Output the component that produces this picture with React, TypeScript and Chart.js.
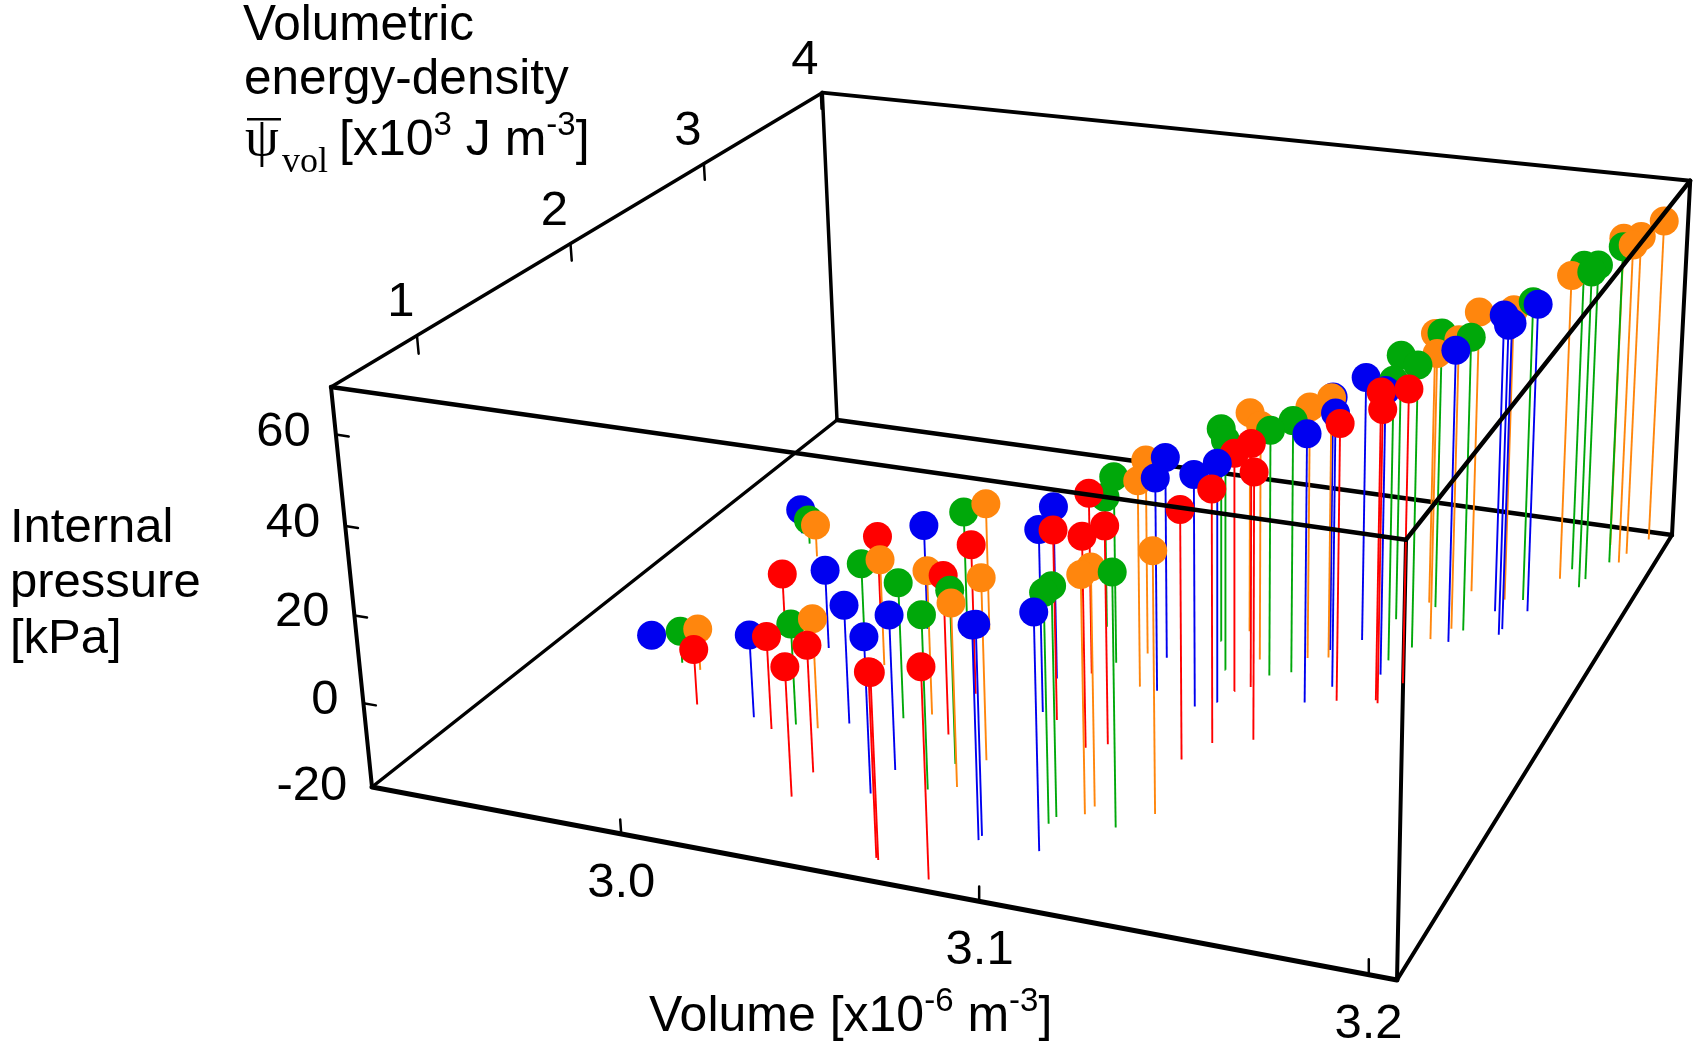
import { useEffect, useRef } from "react";
import { Chart, registerables } from "chart.js";

Chart.register(...registerables);

const WIDTH = 1699;
const HEIGHT = 1049;

// [volume x10^-6 m^3, energy density x10^3 J m^-3, internal pressure kPa]
const blueSeries = [
  [2.9528, 1.79, -16.9], [3.0012, 1.4, 0.2], [2.9569, 2.89, -13.3], [3.001, 1.99, -0.2], [3.0274, 1.47, 8.6],
  [3.0504, 1.03, 16.4], [3.0508, 1.21, 16.4], [3.0221, 2.26, 6.3], [3.0871, 0.86, 28.4], [3.087, 0.89, 27.7],
  [3.0697, 2.04, 21.9], [3.0741, 1.78, 23.7], [3.1038, 0.86, 33.3], [3.0987, 2.07, 31.2], [3.0937, 2.33, 29.1],
  [3.1119, 2.0, 35.2], [3.1168, 2.06, 36.9], [3.1393, 2.16, 43.7], [3.1433, 2.31, 45.3], [3.1353, 2.59, 41.7],
  [3.1417, 2.71, 44.2], [3.1535, 2.46, 48.1], [3.1651, 2.8, 50.9], [3.1718, 3.11, 53.1], [3.1772, 2.92, 55.3],
  [3.1771, 2.97, 54.7], [3.1806, 3.15, 55.6],
];
const greenSeries = [
  [2.9663, 1.7, -11.7], [3.014, 1.4, 4.4], [2.9627, 2.81, -13.3], [3.0073, 2.12, -1.3], [3.0399, 1.57, 12.7],
  [3.0635, 1.12, 20.5], [3.0643, 1.32, 20.7], [3.0303, 2.38, 7.5], [3.1004, 1.04, 32.2], [3.1009, 1.09, 32.4],
  [3.0815, 2.23, 25.6], [3.0701, 2.5, 12.7], [3.1173, 1.09, 37.4], [3.1043, 2.53, 32.3], [3.1119, 2.31, 35.7],
  [3.1246, 2.32, 39.1], [3.1297, 2.37, 40.7], [3.1528, 2.58, 47.6], [3.1466, 2.92, 45.2], [3.1565, 2.71, 48.6],
  [3.1548, 3.07, 48.0], [3.1669, 2.91, 51.7], [3.1773, 3.24, 54.0], [3.1851, 3.57, 56.6], [3.1903, 3.42, 58.5],
  [3.1906, 3.5, 58.6], [3.1942, 3.68, 59.6],
];
const orangeSeries = [
  [2.9733, 1.67, -9.4], [3.0206, 1.4, 6.5], [2.9691, 2.71, -11.3], [3.0207, 1.93, 6.3], [3.0463, 1.63, 14.7],
  [3.0701, 1.17, 22.6], [3.0391, 2.33, 11.8], [3.0712, 1.38, 22.8], [3.1072, 1.14, 34.3], [3.108, 1.2, 34.4],
  [3.0933, 2.08, 29.7], [3.0876, 2.34, 27.6], [3.1241, 1.22, 39.4], [3.1097, 2.64, 34.1], [3.1187, 2.43, 37.0],
  [3.131, 2.5, 41.0], [3.1364, 2.53, 43.0], [3.1522, 3.1, 47.0], [3.1598, 2.8, 49.6], [3.1634, 2.91, 50.8],
  [3.1615, 3.25, 49.8], [3.1722, 3.22, 52.0], [3.1835, 3.47, 56.0], [3.1913, 3.84, 58.2], [3.1969, 3.69, 60.1],
  [3.1975, 3.78, 60.4], [3.2012, 3.94, 61.3],
];
const redSeries = [
  [2.9829, 1.42, -6.2], [3.009, 1.34, 2.5], [3.0318, 0.92, 10.3], [3.031, 1.1, 10.0], [2.9827, 2.1, -6.3],
  [3.0069, 2.27, 1.5], [3.0667, 0.64, 21.8], [3.0676, 0.63, 22.0], [3.0837, 0.57, 27.1], [3.0555, 1.51, 17.9],
  [3.0523, 1.83, 16.3], [3.0796, 1.74, 25.3], [3.0932, 1.58, 29.6], [3.098, 1.63, 31.2], [3.0776, 2.12, 24.0],
  [3.1197, 1.61, 37.9], [3.124, 1.76, 39.2], [3.1188, 2.16, 37.0], [3.1222, 2.21, 38.4], [3.1337, 1.83, 42.4],
  [3.1472, 2.21, 45.7], [3.1572, 2.26, 52.7], [3.1582, 2.24, 49.3], [3.161, 2.42, 50.1],
];

const volumeTicks = [3.0, 3.1, 3.2];
const densityTicks = [1, 2, 3, 4];
const pressureTicks = [-20, 0, 20, 40, 60];

const volumeRange = [2.9255, 3.207];
const densityRange = [0.499, 4.013];
const pressureRange = [-19.52, 70.24];

// perspective camera: screen position of the box origin and of the three edges leaving it
const ORIGIN = [372, 787];
const EDGE_V = [1397, 980];
const EDGE_D = [837, 420];
const EDGE_P = [331, 387];
const GAIN_V = 0.89266;
const GAIN_D = 1.2629;
const GAIN_P = 0.95436;

const norm = (v: number, r: number[]) => (v - r[0]) / (r[1] - r[0]);
const depth = (u: number, v: number, w: number) =>
  1 + (GAIN_V - 1) * u + (GAIN_D - 1) * v + (GAIN_P - 1) * w;

function project(u: number, v: number, w: number) {
  const d = depth(u, v, w);
  const at = (i: number) =>
    (ORIGIN[i] +
      u * (GAIN_V * EDGE_V[i] - ORIGIN[i]) +
      v * (GAIN_D * EDGE_D[i] - ORIGIN[i]) +
      w * (GAIN_P * EDGE_P[i] - ORIGIN[i])) /
    d;
  return { x: at(0), y: at(1) };
}

const seg = (from: number[], to: number[], width: number) => ({
  data: [project(from[0], from[1], from[2]), project(to[0], to[1], to[2])],
  showLine: true,
  borderColor: "#000",
  borderWidth: width,
  pointRadius: 0,
  borderCapStyle: "round" as const,
});

function buildDatasets() {
  const sets: any[] = [];

  // edges behind the data
  sets.push(seg([0, 1, 0], [1, 1, 0], 4.5));
  sets.push(seg([0, 0, 0], [0, 1, 0], 3.5));
  sets.push(seg([0, 1, 0], [0, 1, 1], 3.5));
  sets.push(seg([0, 1, 1], [1, 1, 1], 4));
  sets.push(seg([1, 1, 0], [1, 1, 1], 4));
  sets.push(seg([1, 0, 0], [1, 1, 0], 4));
  sets.push(seg([1, 0, 0], [1, 0, 1], 4));
  sets.push(seg([0, 0, 0], [0, 0, 1], 4));
  sets.push(seg([0, 0, 1], [0, 1, 1], 3.5));

  // axis ticks
  volumeTicks.forEach((t) => {
    const u = norm(t, volumeRange);
    sets.push(seg([u, 0, 0], [u, 0, 0.037], 2.5));
  });
  densityTicks.forEach((t) => {
    const v = norm(t, densityRange);
    sets.push(seg([0, v, 1], [0, v, 0.955], 2.5));
  });
  pressureTicks.slice(1).forEach((t) => {
    const w = norm(t, pressureRange);
    sets.push(seg([0, 0, w], [0.0135, 0, w], 2.5));
  });

  // stems and balls, farthest first
  const groups: [number[][], string][] = [
    [blueSeries, "#0000f0"],
    [greenSeries, "#00a80a"],
    [orangeSeries, "#ff860d"],
    [redSeries, "#ff0000"],
  ];
  const items = groups
    .flatMap(([rows, color]) =>
      rows.map((r) => ({
        u: norm(r[0], volumeRange),
        v: norm(r[1], densityRange),
        w: norm(r[2], pressureRange),
        color,
      })),
    )
    .sort((a, b) => depth(b.u, b.v, 0) - depth(a.u, a.v, 0));

  items.forEach((p) => {
    sets.push({
      data: [project(p.u, p.v, 0), project(p.u, p.v, p.w)],
      showLine: true,
      borderColor: p.color,
      borderWidth: 1.9,
      pointRadius: [0, 14.5],
      pointBackgroundColor: p.color,
      pointBorderWidth: 0,
    });
  });

  // edges in front of the data
  sets.push(seg([0, 0, 1], [1, 0, 1], 4.5));
  sets.push(seg([1, 0, 1], [1, 1, 1], 4.5));
  sets.push(seg([0, 0, 0], [1, 0, 0], 5));

  // later in the list means drawn on top
  return sets.map((s, i) => ({ ...s, order: -i }));
}

type Piece = { text: string; size?: number; rise?: number };

const SANS = "'Liberation Sans'";
const SERIF = "'Liberation Serif'";

function drawPieces(ctx: CanvasRenderingContext2D, x: number, y: number, pieces: Piece[]) {
  let cx = x;
  pieces.forEach((p) => {
    ctx.font = `${p.size ?? 50}px ${SANS}`;
    ctx.textAlign = "left";
    ctx.fillText(p.text, cx, y - (p.rise ?? 0));
    cx += ctx.measureText(p.text).width;
  });
}

const labelsPlugin = {
  id: "labels3d",
  afterDraw(chart: Chart) {
    const ctx = chart.ctx;
    ctx.save();
    ctx.fillStyle = "#000";
    ctx.textBaseline = "alphabetic";

    ctx.font = `49px ${SANS}`;
    ctx.textAlign = "right";
    pressureTicks.forEach((t) => {
      const p = project(0, 0, norm(t, pressureRange));
      ctx.fillText(String(t), p.x - 25, p.y + 11);
    });
    ctx.textAlign = "center";
    densityTicks.forEach((t) => {
      const p = project(0, norm(t, densityRange), 1);
      ctx.fillText(String(t), p.x - 16, p.y - 19);
    });
    volumeTicks.forEach((t) => {
      const p = project(norm(t, volumeRange), 0, 0);
      ctx.fillText(t.toFixed(1), p.x, p.y + 63);
    });

    ctx.textAlign = "left";
    ctx.font = `49.5px ${SANS}`;
    ctx.fillText("Volumetric", 243, 40);
    ctx.fillText("energy-density", 244, 94);

    ctx.font = `54px ${SERIF}`;
    ctx.fillText("ψ", 245, 155);
    ctx.fillRect(247, 118, 34, 2.5);
    ctx.font = `36px ${SERIF}`;
    ctx.fillText("vol", 282, 172);
    drawPieces(ctx, 339, 155, [
      { text: "[x10" },
      { text: "3", size: 33, rise: 20 },
      { text: " J m" },
      { text: "-3", size: 33, rise: 20 },
      { text: "]" },
    ]);

    ctx.font = `49px ${SANS}`;
    ctx.fillText("Internal", 10, 542);
    ctx.fillText("pressure", 10, 597);
    ctx.fillText("[kPa]", 10, 653);

    drawPieces(ctx, 649, 1031, [
      { text: "Volume [x10" },
      { text: "-6", size: 33, rise: 20 },
      { text: " m" },
      { text: "-3", size: 33, rise: 20 },
      { text: "]" },
    ]);
    ctx.restore();
  },
};

export default function App() {
  const ref = useRef<HTMLCanvasElement | null>(null);

  useEffect(() => {
    const el = ref.current;
    if (!el) return;
    const chart = new Chart(el, {
      type: "scatter",
      data: { datasets: buildDatasets() },
      options: {
        animation: false,
        responsive: false,
        devicePixelRatio: 1,
        events: [],
        layout: { padding: 0, autoPadding: false },
        plugins: { legend: { display: false }, tooltip: { enabled: false } },
        scales: {
          x: { type: "linear", display: false, min: 0, max: WIDTH },
          y: { type: "linear", display: false, min: 0, max: HEIGHT, reverse: true },
        },
      },
      plugins: [labelsPlugin],
    });
    return () => chart.destroy();
  }, []);

  return (
    <canvas
      ref={ref}
      width={WIDTH}
      height={HEIGHT}
      style={{ position: "absolute", left: 0, top: 0, display: "block" }}
    />
  );
}
